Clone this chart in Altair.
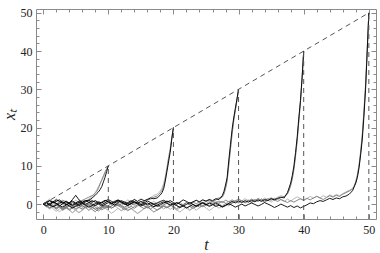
import altair as alt
import pandas as pd

# ---------------- data ----------------
PINS = [10, 20, 30, 40, 50]

# flat parts: t = 0, 0.5, ..., T-2.5 ; rises: t = T-2.25, T-2.0, ..., T
black_10 = [0, 0.4, -0.3, 0.6, 0.2, -0.5, 0.1, 0.8, 0.3, 1.2, 2.3, 1.1, 0.5, 0.9, 1.0, 1.5]
gray_10 = [0, -0.5, -0.9, -0.2, -1.1, -0.6, -1.4, -0.8, -0.2, 0.4, -0.3, 0.2, 0.9, 1.4, 1.8, 2.2]
light_10 = [0, -0.8, -0.3, -1.2, -1.9, -1.3, -0.6, -1.1, -0.4, 0.3, 1.0, 0.4, 1.1, 0.6, 1.3, 1.9]
black_10_rise = [2.0, 2.3, 2.8, 3.2, 3.8, 4.6, 5.8, 7.0, 8.5, 10]
gray_10_rise = [2.5, 2.9, 3.3, 4.2, 5.3, 6.4, 7.4, 8.4, 9.2, 10]
light_10_rise = [2.4, 3.0, 3.8, 4.6, 5.5, 6.2, 7.0, 7.9, 8.9, 10]

black_20 = [0, 0.5, 0.9, 0.3, 0.7, 1.1, 0.4, -0.2, 0.3, 0.8, 0.2, -0.4, 0.1, 0.6, 1.0,
            0.5, 0.9, 0.4, -0.1, 0.3, 0.8, 0.2, -0.3, 0.4, 0.9, 0.5, 0.1, 0.6, 1.2, 0.7,
            1.3, 0.9, 1.2, 1.6, 1.4, 1.6]
gray_20 = [0, -0.4, -1.0, -0.6, -1.3, -0.8, -1.6, -1.1, -0.5, -0.9, -0.3, 0.2, -0.4, -1.0, -0.6,
           -1.4, -2.0, -1.2, -0.7, -0.2, -0.6, -1.1, -0.5, 0.1, -0.3, -0.8, -0.2, 0.4, -0.1, 0.5,
           0.2, 0.8, 1.1, 1.3, 1.8, 2.1]
light_20 = [0, 0.7, 1.3, 0.6, 1.4, 0.8, 0.1, -0.6, -1.3, -0.7, -1.5, -2.2, -1.6, -0.9, -1.7,
            -1.1, -0.4, 0.3, -0.5, -1.2, -0.6, 0.2, 0.9, 0.3, -0.4, 0.4, 1.1, 0.5, 1.2, 0.6,
            -0.1, 0.6, 1.3, 1.7, 2.3, 2.6]
black_20_rise = [2.0, 2.4, 3.0, 4.0, 6.0, 8.5, 11.0, 13.5, 17.0, 20]
gray_20_rise = [2.5, 3.0, 3.6, 4.6, 6.5, 9.0, 11.8, 14.0, 17.3, 20]
light_20_rise = [3.0, 3.4, 4.2, 5.4, 7.2, 9.6, 12.2, 14.6, 17.4, 20]

black_30 = [0, 0.3, -0.2, -0.7, -0.3, 0.2, 0.6, 0.1, -0.5, -1.0, -0.6, -0.1, 0.4, 0.9, 0.5,
            0.0, -0.4, 0.1, 0.5, 1.0, 0.6, 0.2, 0.7, 1.1, 0.6, 0.1, -0.3, 0.2, 0.6, 0.3,
            -0.2, 0.3, 0.8, 0.4, -0.1, 0.3, 0.7, 1.0, 0.5, 0.9, 0.4, 0.0, 0.5, 1.1, 0.7,
            0.2, 0.6, 1.0, 0.6, 1.1, 0.8, 1.2, 0.9, 1.4, 1.2, 2.2]
gray_30 = [0, -0.6, -0.2, 0.4, -0.1, -0.7, -1.2, -0.8, -1.5, -1.0, -0.4, -0.9, -1.3, -0.7, -0.2,
           -0.8, -1.4, -1.8, -1.1, -0.6, -1.0, -0.5, 0.1, -0.4, -0.9, -1.5, -1.0, -0.6, -1.1, -0.5,
           0.0, -0.5, -1.0, -0.4, 0.2, -0.3, -0.8, -0.3, 0.3, -0.2, -0.7, -1.2, -0.6, -0.1, 0.4,
           -0.1, 0.5, 0.1, 0.6, 0.2, 0.7, 1.0, 0.6, 1.1, 1.4, 1.8]
light_30 = [0, -0.5, -1.2, -0.6, -1.4, -2.0, -1.3, -0.7, -1.5, -2.3, -1.6, -0.9, -0.2, -0.9, -1.6,
            -1.0, -0.3, 0.4, -0.3, -1.0, -1.7, -2.4, -1.8, -1.1, -1.7, -1.0, -0.3, 0.3, -0.4, 0.2,
            0.8, 0.1, -0.6, 0.1, 0.7, 0.1, -0.6, -1.3, -0.7, -1.4, -0.8, -0.1, 0.5, -0.2, 0.4,
            -0.3, 0.3, 1.0, 0.4, 1.1, 0.6, 1.2, 0.7, 1.3, 1.7, 2.0]
black_30_rise = [3.3, 5.0, 7.0, 11.5, 15.5, 19.5, 22.5, 25.0, 27.5, 30]
gray_30_rise = [2.6, 4.0, 6.0, 10.5, 14.5, 18.5, 22.0, 24.5, 27.0, 30]
light_30_rise = [2.9, 4.4, 6.6, 10.0, 14.0, 18.0, 21.5, 24.5, 27.2, 30]

black_40 = [0, 0.4, 0.9, 0.5, 1.1, 0.7, 0.2, 0.6, 0.1, -0.4, 0.0, 0.5, 0.2, -0.3, -0.8,
            -0.4, 0.1, 0.6, 0.3, 0.8, 1.2, 0.7, 0.3, 0.8, 0.4, -0.1, 0.4, 0.9, 0.5, 0.0,
            -0.5, -0.1, 0.3, -0.2, -0.7, -0.3, 0.2, 0.6, 0.2, -0.3, 0.1, -0.4, -0.9, -0.5, -1.0,
            -0.6, -0.1, -0.5, 0.0, 0.4, -0.1, -0.6, -0.2, 0.3, -0.2, -0.7, -0.3, 0.2, 0.7, 0.3,
            0.8, 0.4, 0.9, 0.5, 1.0, 0.6, 1.1, 0.7, 1.2, 0.9, 1.4, 1.1, 1.5, 1.8, 1.6, 3.0]
gray_40 = [0, -0.3, 0.2, -0.4, -0.9, -0.5, -1.1, -0.7, -0.2, -0.6, -1.2, -0.8, -0.3, 0.2, -0.3,
           -0.8, -1.3, -0.9, -1.5, -1.0, -0.5, -1.0, -0.6, -0.1, -0.6, -1.1, -1.6, -1.2, -0.7, -0.2,
           -0.7, -1.2, -0.8, -1.4, -2.1, -1.5, -1.0, -0.5, -0.9, -0.4, 0.1, -0.4, -0.8, -0.3, 0.3,
           -0.2, -0.7, -0.3, -0.8, -0.4, 0.1, -0.4, 0.2, -0.3, 0.3, 0.7, 0.2, -0.2, 0.3, 0.8,
           0.4, 0.9, 0.5, 1.0, 0.6, 1.1, 0.7, 1.3, 0.9, 1.4, 1.0, 1.5, 1.2, 1.7, 2.0, 2.6]
light_40 = [0, 0.6, 0.0, -0.7, -0.1, -0.8, -1.5, -0.9, -1.6, -2.2, -1.5, -0.8, -1.4, -0.7, -0.1,
            0.5, -0.2, -0.9, -0.3, 0.4, 1.0, 0.3, -0.4, 0.2, -0.5, -1.2, -1.8, -1.1, -1.7, -2.4,
            -1.8, -1.1, -0.5, -1.2, -0.6, 0.1, -0.6, 0.0, 0.6, -0.1, -0.8, -1.5, -2.1, -1.4, -0.8,
            -1.5, -0.9, -1.6, -1.0, -0.3, -1.0, -1.7, -1.1, -0.4, -1.1, -0.5, 0.1, -0.5, 0.2, 0.8,
            0.2, 0.9, 0.3, 1.0, 0.5, 1.2, 0.7, 1.4, 0.8, 1.3, 1.7, 1.2, 1.8, 2.2, 1.9, 2.8]
black_40_rise = [4.2, 5.5, 7.5, 10.0, 13.5, 17.5, 22.5, 27.0, 33.0, 40]
gray_40_rise = [3.5, 4.8, 6.5, 9.0, 12.5, 16.5, 21.5, 26.5, 32.5, 40]
light_40_rise = [3.8, 5.1, 7.0, 9.5, 13.0, 17.0, 22.0, 27.0, 33.0, 40]

black_50 = [0, -0.4, 0.1, 0.6, 0.2, -0.3, -0.8, -0.3, 0.2, -0.2, 0.3, 0.8, 0.4, -0.1, 0.4,
            0.9, 0.5, 0.0, -0.5, -0.1, 0.4, 0.0, 0.5, 1.0, 0.6, 0.1, -0.4, 0.1, 0.6, 0.2,
            0.7, 0.3, -0.2, 0.3, -0.1, -0.6, -0.2, 0.3, 0.8, 0.4, -0.1, 0.4, 0.0, -0.5, -0.1,
            0.4, -0.1, -0.6, -0.2, 0.3, -0.2, 0.3, -0.1, -0.6, -0.3, -0.8, -0.4, 0.1, -0.3, -0.8,
            -0.4, 0.0, -0.5, -0.1, 0.3, -0.1, -0.5, -0.1, 0.4, 0.0, -0.4, -0.9, -0.5, 0.0, -0.4,
            -0.8, -0.4, -0.9, -0.5, -1.0, -0.6, -0.2, 0.3, 0.1, 0.6, 0.9, 0.7, 1.1, 1.5, 1.2,
            1.6, 1.4, 1.9, 2.1, 2.6, 3.5]
gray_50 = [0, 0.5, 0.1, -0.4, 0.0, 0.5, 1.0, 0.6, 0.1, 0.6, 0.2, -0.3, -0.8, -0.4, 0.1,
           -0.3, -0.8, -1.3, -0.9, -0.4, -0.9, -0.5, 0.0, -0.4, 0.1, 0.6, 0.2, -0.3, 0.1, 0.5,
           0.1, -0.4, -0.9, -0.5, -1.0, -1.6, -1.1, -0.6, -1.0, -0.5, -0.1, 0.4, 0.0, -0.5, -1.0,
           -0.6, -1.1, -0.7, -0.2, -0.7, -0.3, 0.2, 0.7, 0.3, 0.8, 0.4, 1.0, 0.6, 1.1, 0.7,
           1.2, 0.8, 0.3, 0.8, 1.3, 0.9, 1.4, 1.0, 0.5, 1.0, 1.5, 1.1, 0.7, 1.2, 0.8,
           0.4, 0.9, 0.5, 1.0, 1.4, 1.0, 1.5, 1.1, 1.6, 2.0, 1.6, 1.2, 1.7, 2.2, 1.8,
           2.3, 2.0, 2.6, 3.0, 3.4, 3.9]
light_50 = [0, -0.6, -1.3, -0.7, -0.1, 0.5, -0.2, -0.9, -1.6, -1.0, -1.7, -2.3, -1.6, -0.9, -1.5,
            -0.8, -0.2, 0.4, -0.3, -1.0, -0.4, 0.3, -0.4, -1.1, -1.8, -1.2, -0.5, -1.2, -1.9, -2.5,
            -1.9, -1.2, -0.6, -1.3, -0.7, 0.0, 0.6, -0.1, -0.8, -0.2, -0.9, -1.6, -1.0, -0.3, -1.0,
            -1.7, -1.1, -0.4, 0.2, -0.5, 0.1, 0.7, 0.1, 0.8, 0.2, -0.5, 0.1, 0.7, 0.2, 0.9,
            1.4, 0.8, 1.4, 0.9, 0.3, 0.9, 1.5, 0.9, 1.6, 1.1, 0.5, 1.1, 1.7, 1.2, 0.7,
            1.3, 0.8, 1.4, 1.9, 1.4, 0.9, 1.5, 2.0, 1.5, 2.1, 1.6, 2.2, 1.8, 2.4, 2.0,
            2.5, 2.2, 2.7, 3.2, 3.6, 4.1]
black_50_rise = [4.5, 5.5, 7.0, 9.5, 13.0, 17.0, 23.0, 30.0, 40.0, 50]
gray_50_rise = [4.6, 5.8, 7.5, 10.0, 13.5, 18.0, 24.0, 31.0, 40.0, 50]
light_50_rise = [4.8, 6.0, 7.8, 10.4, 14.0, 18.5, 24.5, 31.5, 40.5, 50]

diag_t = [0, 50]
diag_x = [0, 50]

x_major = [0, 10, 20, 30, 40, 50]
y_major = [0, 10, 20, 30, 40, 50]
x_minor = list(range(0, 51, 2))
y_minor = list(range(-2, 51, 2))

X_DOMAIN = [-1.1, 51.1]
Y_DOMAIN = [-3.9, 51.0]

# ---------------- build tables ----------------
paths = {
    "black": {10: (black_10, black_10_rise), 20: (black_20, black_20_rise), 30: (black_30, black_30_rise),
              40: (black_40, black_40_rise), 50: (black_50, black_50_rise)},
    "gray": {10: (gray_10, gray_10_rise), 20: (gray_20, gray_20_rise), 30: (gray_30, gray_30_rise),
             40: (gray_40, gray_40_rise), 50: (gray_50, gray_50_rise)},
    "light": {10: (light_10, light_10_rise), 20: (light_20, light_20_rise), 30: (light_30, light_30_rise),
              40: (light_40, light_40_rise), 50: (light_50, light_50_rise)},
}


def make_df(shade):
    rows = []
    for T in PINS:
        flat, rise = paths[shade][T]
        for i, v in enumerate(flat):
            rows.append({"t": i * 0.5, "x": v, "path": f"{shade}{T}"})
        for i, v in enumerate(rise):
            rows.append({"t": T - 2.25 + 0.25 * i, "x": v, "path": f"{shade}{T}"})
    return pd.DataFrame(rows)


df_black = make_df("black")
df_gray = make_df("gray")
df_light = make_df("light")
df_diag = pd.DataFrame({"t": diag_t, "x": diag_x})
df_pins = pd.DataFrame({"t": PINS, "lo": [Y_DOMAIN[0]] * len(PINS), "hi": PINS})

# ---------------- chart ----------------
W, H = 340, 210
FONT = "'Liberation Serif', 'Times New Roman', serif"
FRAME = "#8a8a8a"

xs = alt.Scale(domain=X_DOMAIN, nice=False, zero=False)
ys = alt.Scale(domain=Y_DOMAIN, nice=False, zero=False)


def tick_axis(orient, offset, values, size):
    return alt.Axis(orient=orient, offset=offset, values=values, tickSize=size, tickColor=FRAME,
                    tickWidth=1, labels=False, domain=False, grid=False, title=None)


label_x = alt.Axis(orient="bottom", values=x_major, ticks=False, domain=False, grid=False,
                   labelFont=FONT, labelFontSize=12, labelColor="#222", labelPadding=5,
                   title="t", titleFont=FONT, titleFontSize=16, titleFontStyle="italic",
                   titleFontWeight="normal", titleColor="#222", titlePadding=1)
label_y = alt.Axis(orient="left", values=y_major, ticks=False, domain=False, grid=False,
                   labelFont=FONT, labelFontSize=12, labelColor="#222", labelPadding=4,
                   title="xₜ", titleFont=FONT, titleFontSize=16, titleFontStyle="italic",
                   titleFontWeight="normal", titleColor="#222", titlePadding=3)

light_layer = alt.Chart(df_light).mark_line(color="#b0b0b0", strokeWidth=0.9, clip=True).encode(
    x=alt.X("t:Q", scale=xs, axis=label_x),
    y=alt.Y("x:Q", scale=ys, axis=label_y),
    detail="path:N",
)

gray_layer = alt.Chart(df_gray).mark_line(color="#7a7a7a", strokeWidth=0.9, clip=True).encode(
    x=alt.X("t:Q", scale=xs, axis=tick_axis("bottom", -H, x_minor, 3)),
    y=alt.Y("x:Q", scale=ys, axis=tick_axis("left", -W, y_minor, 3)),
    detail="path:N",
)

black_layer = alt.Chart(df_black).mark_line(color="#000000", strokeWidth=0.9, clip=True).encode(
    x=alt.X("t:Q", scale=xs, axis=tick_axis("top", -H, x_major, 5)),
    y=alt.Y("x:Q", scale=ys, axis=tick_axis("right", -W, y_major, 5)),
    detail="path:N",
)

diag_layer = alt.Chart(df_diag).mark_line(color="#555555", strokeWidth=1, strokeDash=[5, 4]).encode(
    x=alt.X("t:Q", scale=xs, axis=tick_axis("bottom", -H, x_major, 5)),
    y=alt.Y("x:Q", scale=ys, axis=tick_axis("left", -W, y_major, 5)),
)

pin_layer = alt.Chart(df_pins).mark_rule(color="#555555", strokeWidth=1, strokeDash=[5, 4]).encode(
    x=alt.X("t:Q", scale=xs, axis=tick_axis("top", -H, x_minor, 3)),
    y=alt.Y("lo:Q", scale=ys, axis=tick_axis("right", -W, y_minor, 3)),
    y2="hi:Q",
)

chart = (
    alt.layer(light_layer, gray_layer, black_layer, diag_layer, pin_layer)
    .resolve_axis(x="independent", y="independent")
    .properties(
        width=W, height=H,
        autosize=alt.AutoSizeParams(type="none"),
        padding={"left": 36, "top": 9, "right": 4, "bottom": 34},
        background="white",
    )
    .configure_view(stroke=FRAME, strokeWidth=1)
)

chart.save("out.html", embed_options={"renderer": "svg", "actions": False})
